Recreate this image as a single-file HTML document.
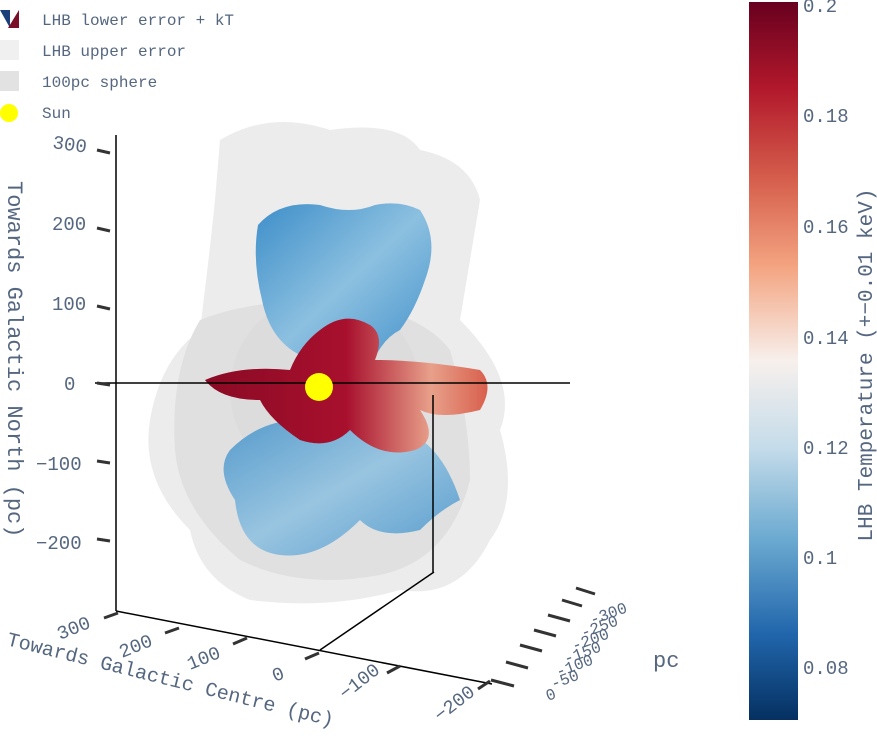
<!DOCTYPE html>
<html><head><meta charset="utf-8"><style>
body{margin:0;background:#fff;width:877px;height:733px;overflow:hidden}
svg text{font-family:"Liberation Mono",monospace;fill:#556780}
</style></head><body>
<svg width="877" height="733" viewBox="0 0 877 733" xmlns="http://www.w3.org/2000/svg">
<defs>
<linearGradient id="cb" x1="0" y1="0" x2="0" y2="1">
<stop offset="0" stop-color="#67001f"/><stop offset="0.12" stop-color="#b2182b"/>
<stop offset="0.25" stop-color="#d6604d"/><stop offset="0.37" stop-color="#f4a582"/>
<stop offset="0.5" stop-color="#f7f0ec"/><stop offset="0.62" stop-color="#c5dcea"/>
<stop offset="0.75" stop-color="#6aa9d0"/><stop offset="0.88" stop-color="#2166ac"/>
<stop offset="1" stop-color="#053061"/></linearGradient>
<linearGradient id="bl" x1="0" y1="0" x2="1" y2="1"><stop offset="0" stop-color="#3d8ec9"/><stop offset="0.5" stop-color="#8cc0e0"/><stop offset="1" stop-color="#3f8fca"/></linearGradient>
<linearGradient id="rd" x1="0" y1="0" x2="1" y2="0"><stop offset="0" stop-color="#8a0a25"/><stop offset="0.5" stop-color="#a8102d"/><stop offset="0.8" stop-color="#e8a08a"/><stop offset="1" stop-color="#d8604d"/></linearGradient>
</defs>
<!-- legend -->
<path d="M0 10 L10 10 L10 28 Z" fill="#1b3f7a"/><path d="M8 28 L19 10 L19 28 Z" fill="#7a1028"/>
<rect x="0" y="40" width="19" height="20" fill="#f0f0f0"/>
<rect x="0" y="71" width="19" height="20" fill="#e2e2e2"/>
<circle cx="9" cy="113" r="9" fill="#ffff00"/>
<text x="42" y="25" font-size="16">LHB lower error + kT</text>
<text x="42" y="56" font-size="16">LHB upper error</text>
<text x="42" y="87" font-size="16">100pc sphere</text>
<text x="42" y="118" font-size="16">Sun</text>
<!-- gray blobs -->
<path d="M220 140 Q270 110 330 130 Q400 120 420 150 Q470 160 480 200 Q470 260 460 320 Q520 380 500 430 Q520 500 490 540 Q460 600 400 590 Q330 610 250 600 Q200 580 190 530 Q140 480 150 420 Q160 360 200 330 Q210 250 215 200 Z" fill="#ececec"/>
<path d="M200 320 Q250 300 330 300 Q420 310 450 350 Q470 420 470 480 Q450 560 380 575 Q300 590 240 560 Q180 510 175 450 Q170 370 200 320 Z" fill="#e0e0e0"/>
<circle cx="325" cy="390" r="95" fill="#d8d8d8" opacity="0.6"/>
<!-- blue top -->
<path d="M258 225 Q280 200 320 205 Q350 215 375 205 Q400 200 420 210 Q440 240 425 280 Q415 310 400 330 Q380 340 370 370 Q330 340 300 355 Q270 340 262 300 Q252 260 258 225 Z" fill="url(#bl)"/>
<!-- blue bottom -->
<path d="M230 450 Q260 420 300 420 Q360 410 400 430 Q440 440 460 500 Q440 510 420 530 Q380 540 360 520 Q320 560 280 555 Q240 550 235 500 Q215 470 230 450 Z" fill="url(#bl)" opacity="0.85"/>
<!-- red center -->
<path d="M205 380 Q240 365 290 370 Q300 345 320 330 Q345 310 370 325 Q385 335 375 360 Q420 360 480 370 Q495 385 480 410 Q440 420 420 410 Q440 440 415 450 Q380 460 350 430 Q330 450 300 440 Q270 420 260 400 Q220 400 205 380 Z" fill="url(#rd)"/>
<!-- axes -->
<g stroke="#000" stroke-width="1.5" fill="none">
<line x1="116" y1="135" x2="116" y2="611"/>
<line x1="95" y1="383" x2="570" y2="383"/>
<line x1="116" y1="611" x2="492" y2="684"/>
<line x1="320" y1="650" x2="434" y2="572"/>
<line x1="433" y1="395" x2="433" y2="572"/>
</g>
<g stroke="#333" stroke-width="3">
<line x1="97" y1="150" x2="110" y2="153"/><line x1="97" y1="228" x2="110" y2="231"/>
<line x1="97" y1="306" x2="110" y2="309"/><line x1="97" y1="383" x2="110" y2="385"/>
<line x1="97" y1="461" x2="110" y2="463"/><line x1="97" y1="539" x2="110" y2="541"/>
<line x1="104" y1="618" x2="118" y2="613"/><line x1="165" y1="633" x2="179" y2="628"/>
<line x1="233" y1="644" x2="247" y2="638"/><line x1="305" y1="659" x2="319" y2="653"/>
<line x1="387" y1="673" x2="400" y2="666"/><line x1="478" y1="689" x2="490" y2="681"/>
<line x1="491" y1="680" x2="514" y2="686"/><line x1="506" y1="662" x2="528" y2="668"/>
<line x1="520" y1="645" x2="542" y2="651"/><line x1="534" y1="630" x2="556" y2="636"/>
<line x1="548" y1="615" x2="570" y2="621"/><line x1="562" y1="600" x2="582" y2="606"/>
<line x1="576" y1="588" x2="595" y2="594"/></g>
<circle cx="319" cy="387" r="14" fill="#ffff00"/>
<!-- z labels -->
<g font-size="19">
<text x="52" y="148" transform="rotate(8 52 148)">300</text>
<text x="52" y="230">200</text><text x="52" y="310">100</text>
<text x="64" y="390">0</text><text x="36" y="470">−100</text><text x="36" y="549">−200</text>
<text x="60" y="640" transform="rotate(-22 60 640)">300</text>
<text x="122" y="658" transform="rotate(-22 122 658)">200</text>
<text x="190" y="670" transform="rotate(-22 190 670)">100</text>
<text x="275" y="682" transform="rotate(-22 275 682)">0</text>
<text x="345" y="700" transform="rotate(-38 345 700)">−100</text>
<text x="440" y="722" transform="rotate(-38 440 722)">−200</text>
</g>
<g font-size="16">
<text x="548" y="701" transform="rotate(-20 548 701)">0</text>
<text x="553" y="689" transform="rotate(-20 553 689)">-50</text>
<text x="558" y="677" transform="rotate(-20 558 677)">-100</text>
<text x="566" y="664" transform="rotate(-20 566 664)">-150</text>
<text x="574" y="651" transform="rotate(-20 574 651)">-200</text>
<text x="583" y="638" transform="rotate(-20 583 638)">-250</text>
<text x="592" y="625" transform="rotate(-20 592 625)">-300</text>
</g>
<text x="653" y="667" font-size="22">pc</text>
<text x="6" y="645" font-size="20" transform="rotate(14 6 645)">Towards Galactic Centre (pc)</text>
<text x="8" y="181" font-size="22" transform="rotate(90 8 181)">Towards Galactic North (pc)</text>
<!-- colorbar -->
<rect x="749" y="2" width="49" height="718" fill="url(#cb)"/>
<g font-size="19">
<text x="803" y="12">0.2</text><text x="803" y="122">0.18</text><text x="803" y="233">0.16</text>
<text x="803" y="344">0.14</text><text x="803" y="454">0.12</text><text x="803" y="564">0.1</text>
<text x="803" y="674">0.08</text></g>
<text x="872" y="365" font-size="21" text-anchor="middle" transform="rotate(-90 872 365)">LHB Temperature (+−0.01 keV)</text>
</svg>
</body></html>
